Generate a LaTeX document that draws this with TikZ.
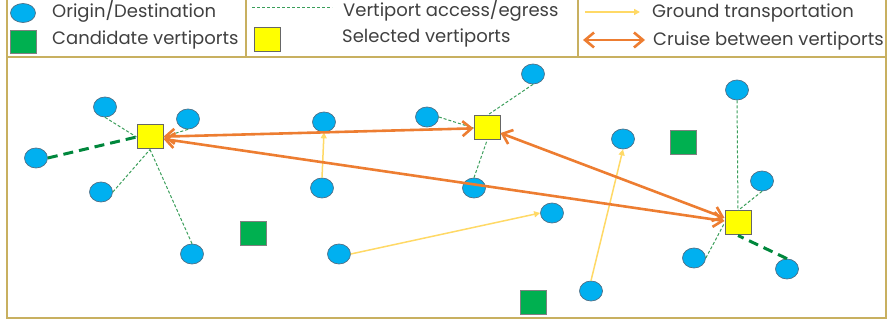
\documentclass[tikz,border=0pt]{standalone}
\usepackage{fontspec}
\setmainfont{Poppins}
\usetikzlibrary{arrows.meta,shapes.geometric}
\definecolor{odblue}{HTML}{00B0F0}
\definecolor{odedge}{HTML}{4F6F86}
\definecolor{candgreen}{HTML}{00B050}
\definecolor{selyellow}{HTML}{FFFF00}
\definecolor{accgreen}{HTML}{3A9E5A}
\definecolor{accdark}{HTML}{00873C}
\definecolor{groundc}{HTML}{FFD966}
\definecolor{cruisec}{HTML}{ED7D31}
\definecolor{txtc}{HTML}{404040}
\definecolor{framec}{HTML}{C8B060}
\tikzset{
  od/.style={ellipse,draw=odedge,line width=0.7pt,fill=odblue,minimum width=23pt,minimum height=20pt,inner sep=0pt},
  cand/.style={rectangle,draw=gray,line width=0.8pt,fill=candgreen,minimum width=26pt,minimum height=24pt,inner sep=0pt},
  sel/.style={rectangle,draw=black!60,line width=1pt,fill=selyellow,minimum width=26pt,minimum height=24pt,inner sep=0pt},
  acc/.style={draw=accgreen,line width=1pt,dash pattern=on 3pt off 2pt},
  accthick/.style={draw=accdark,line width=3pt,dash pattern=on 10pt off 6pt},
  ground/.style={draw=groundc,line width=1.5pt,-{Triangle[length=6pt,width=6pt]}},
  cruise/.style={draw=cruisec,line width=2.6pt,{Straight Barb[length=9pt,width=15pt]}-{Straight Barb[length=9pt,width=15pt]}},
  lab/.style={anchor=base west,inner sep=0pt,text=txtc,font=\fontsize{18}{21}\selectfont},
  frame/.style={draw=framec,line width=1.5pt}
}
\begin{document}
\begin{tikzpicture}[x=1pt,y=-1pt]
\useasboundingbox (0,0) rectangle (889,323);
% frames
\draw[frame] (7,-2) -- (7,318) -- (886,318) -- (886,-2);
\draw[frame] (7,57) -- (886,57);
\draw[frame] (246,-2) -- (246,57);
\draw[frame] (578,-2) -- (578,57);
% legend
\node[od,minimum width=25pt,minimum height=19pt] (lgod) at (23,13) {};
\node[lab] (lgodt) at (52,18) {Origin/Destination};
\node[cand,minimum height=23pt] (lgcand) at (23,41.5) {};
\node[lab] (lgcandt) at (52,45) {Candidate vertiports};
\coordinate (lgaccA) at (252,8);
\coordinate (lgaccB) at (332,8);
\draw[acc] (lgaccA) -- (lgaccB);
\node[lab] (lgacct) at (343,17) {Vertiport access/egress};
\node[sel] (lgsel) at (267.5,40) {};
\node[lab] (lgselt) at (342,43) {Selected vertiports};
\coordinate (lggrA) at (585,12);
\coordinate (lggrB) at (640,12);
\draw[ground] (lggrA) -- (lggrB);
\node[lab] (lggrt) at (652,18) {Ground transportation};
\coordinate (lgcrA) at (583,40);
\coordinate (lgcrB) at (645,40);
\draw[cruise] (lgcrA) -- (lgcrB);
\node[lab] (lgcrt) at (653,46) {Cruise between vertiports};
% vertiports
\node[sel] (L) at (150,137) {};
\node[sel] (M) at (487,128) {};
\node[sel] (R) at (738,223) {};
\node[cand] (C1) at (253,233) {};
\node[cand] (C2) at (533,302) {};
\node[cand] (C3) at (683,142) {};
% origins/destinations
\node[od] (a0) at (36,158) {};
\node[od] (a1) at (105,107) {};
\node[od] (a2) at (188,119) {};
\node[od] (a3) at (101,192) {};
\node[od] (a4) at (192,254) {};
\node[od] (b1) at (533,74) {};
\node[od] (b2) at (427,117) {};
\node[od] (b3) at (474,188) {};
\node[od] (g1) at (322,188) {};
\node[od] (g2) at (324,122) {};
\node[od] (g3) at (339,254) {};
\node[od] (g4) at (552,213) {};
\node[od] (g5) at (591,291) {};
\node[od] (g6) at (623,139) {};
\node[od] (r1) at (737,90) {};
\node[od] (r2) at (762,181) {};
\node[od] (r3) at (694,258) {};
\node[od] (r4) at (787,269) {};
% access / egress
\draw[acc] (a1.south) -- (L.west);
\draw[acc] (a2.south) -- (L.east);
\draw[acc] (a3.east) -- (L.south);
\draw[acc] (a4.north) -- (L.south);
\draw[accthick] (a0.east) -- (L.west);
\draw[acc] (b1.south) -- (M.north);
\draw[acc] (b2.east) -- (M.west);
\draw[acc] (b3.north) -- (M.south);
\draw[acc] (r1.south) -- (R.north);
\draw[acc] (r2.south) -- (R.north);
\draw[acc] (r3.east) -- (R.west);
\draw[accthick] (r4.north) -- (R.south);
% ground
\draw[ground] (g1.north) -- (g2.south);
\draw[ground] (g3.east) -- (g4.west);
\draw[ground] (g5.north) -- (g6.south);
% cruise
\draw[cruise] (L) -- (M);
\draw[cruise] (L) -- (R);
\draw[cruise] (M) -- (R);
\end{tikzpicture}
\end{document}
